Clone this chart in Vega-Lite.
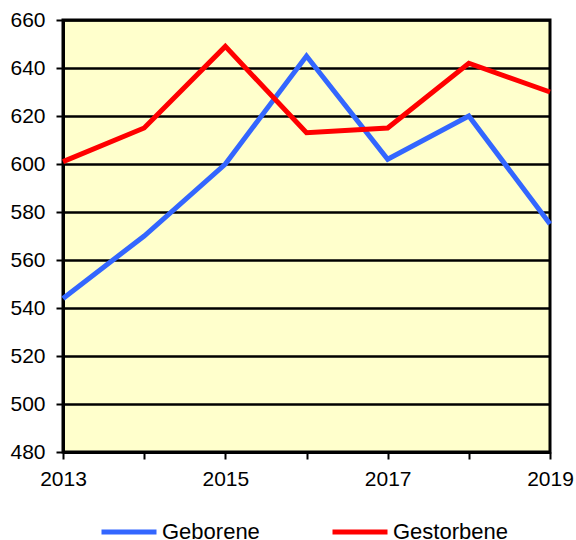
{
  "$schema": "https://vega.github.io/schema/vega-lite/v6.json",
  "width": 487,
  "height": 432,
  "autosize": "none",
  "padding": {"left": 63, "top": 20, "right": 26, "bottom": 88},
  "background": "white",
  "config": {
    "font": "Liberation Sans",
    "view": {"fill": "#FFFFCC", "stroke": "black", "strokeWidth": 3}
  },
  "data": {
    "values": [
      {"Jahr": 2013, "Serie": "Geborene", "Wert": 544},
      {"Jahr": 2014, "Serie": "Geborene", "Wert": 570},
      {"Jahr": 2015, "Serie": "Geborene", "Wert": 600},
      {"Jahr": 2016, "Serie": "Geborene", "Wert": 645},
      {"Jahr": 2017, "Serie": "Geborene", "Wert": 602},
      {"Jahr": 2018, "Serie": "Geborene", "Wert": 620},
      {"Jahr": 2019, "Serie": "Geborene", "Wert": 575},
      {"Jahr": 2013, "Serie": "Gestorbene", "Wert": 601},
      {"Jahr": 2014, "Serie": "Gestorbene", "Wert": 615},
      {"Jahr": 2015, "Serie": "Gestorbene", "Wert": 649},
      {"Jahr": 2016, "Serie": "Gestorbene", "Wert": 613},
      {"Jahr": 2017, "Serie": "Gestorbene", "Wert": 615},
      {"Jahr": 2018, "Serie": "Gestorbene", "Wert": 642},
      {"Jahr": 2019, "Serie": "Gestorbene", "Wert": 630}
    ]
  },
  "mark": {"type": "line", "strokeWidth": 5, "strokeJoin": "miter"},
  "encoding": {
    "x": {
      "field": "Jahr",
      "type": "quantitative",
      "scale": {"domain": [2013, 2019], "nice": false, "zero": false},
      "axis": {
        "title": null,
        "values": [2013, 2014, 2015, 2016, 2017, 2018, 2019],
        "format": "d",
        "labelExpr": "datum.value % 2 == 1 ? datum.label : ''",
        "labelFlush": false,
        "labelFontSize": 21,
        "labelColor": "black",
        "labelPadding": 9,
        "tickSize": 7,
        "tickColor": "black",
        "tickWidth": 2,
        "domainColor": "black",
        "domainWidth": 3,
        "grid": false
      }
    },
    "y": {
      "field": "Wert",
      "type": "quantitative",
      "scale": {"domain": [480, 660], "nice": false, "zero": false},
      "axis": {
        "title": null,
        "values": [480, 500, 520, 540, 560, 580, 600, 620, 640, 660],
        "labelFontSize": 21,
        "labelColor": "black",
        "labelPadding": 11,
        "tickSize": 7,
        "tickColor": "black",
        "tickWidth": 2,
        "domainColor": "black",
        "domainWidth": 3,
        "grid": true,
        "gridColor": "black",
        "gridWidth": 2.5,
        "gridOpacity": 1
      }
    },
    "color": {
      "field": "Serie",
      "type": "nominal",
      "scale": {"domain": ["Geborene", "Gestorbene"], "range": ["#3366FF", "#FF0000"]},
      "legend": {
        "title": null,
        "orient": "none",
        "direction": "horizontal",
        "legendX": 36,
        "legendY": 482,
        "padding": 0,
        "symbolType": "stroke",
        "symbolSize": 3025,
        "symbolStrokeWidth": 5,
        "labelFontSize": 22,
        "labelColor": "black",
        "labelOffset": 3,
        "columnPadding": 62
      }
    }
  }
}
